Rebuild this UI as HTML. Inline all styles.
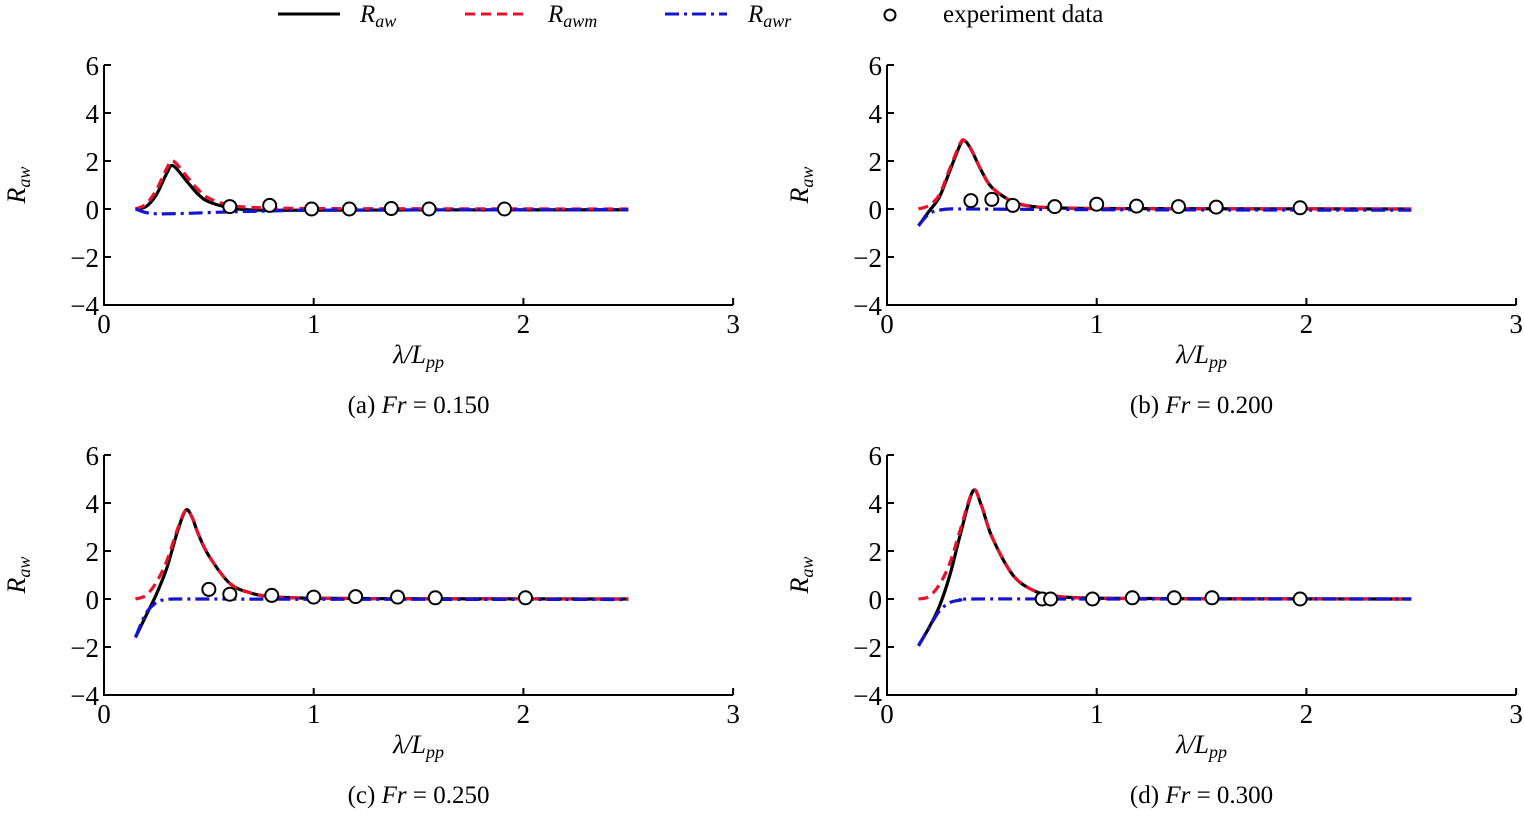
<!DOCTYPE html>
<html><head><meta charset="utf-8"><style>
body{margin:0;background:#fff;}
svg{display:block;font-family:"Liberation Serif",serif;}
</style></head><body>
<svg id="c" width="1524" height="814" viewBox="0 0 1524 814">
<g id="legend">
 <g><line x1="278" y1="14" x2="340" y2="14" stroke="#000" stroke-width="3"/><text x="360" y="22" font-size="25" font-style="italic">R<tspan font-size="18" dy="5">aw</tspan></text></g>
 <g><line x1="465" y1="14" x2="527" y2="14" stroke="#e8102a" stroke-width="3" stroke-dasharray="10,6"/><text x="548" y="22" font-size="25" font-style="italic">R<tspan font-size="18" dy="5">awm</tspan></text></g>
 <g><line x1="665" y1="14" x2="727" y2="14" stroke="#1414d0" stroke-width="3" stroke-dasharray="14,5,3,5"/><text x="748" y="22" font-size="25" font-style="italic">R<tspan font-size="18" dy="5">awr</tspan></text></g>
 <g><circle cx="890" cy="15" r="5.5" fill="#fff" stroke="#000" stroke-width="2"/><text x="943" y="22" font-size="25">experiment data</text></g>
</g>
</svg>
<script>
// Panel data
const xTicks=[0,1,2,3];
const yTicks=[-4,-2,0,2,4,6];
const captions=["(a) ","(b) ","(c) ","(d) "];
const froude=["0.150","0.200","0.250","0.300"];
const rawA=[[0.15,0],[0.2,0.1],[0.25,0.6],[0.3,1.5],[0.33,1.8],[0.4,1.1],[0.45,0.6],[0.5,0.3],[0.6,0.05],[0.7,-0.04],[0.8,-0.05],[1,-0.05],[1.5,-0.04],[2.5,-0.03]];
const rawmA=[[0.15,0],[0.2,0.2],[0.25,0.8],[0.3,1.7],[0.33,2.0],[0.4,1.3],[0.45,0.8],[0.5,0.45],[0.6,0.15],[0.7,0.07],[0.8,0.04],[1,0.02],[1.5,0.01],[2.5,0]];
const rawrA=[[0.15,0],[0.2,-0.15],[0.25,-0.2],[0.3,-0.2],[0.4,-0.18],[0.6,-0.12],[0.8,-0.08],[1,-0.05],[1.5,-0.04],[2.5,-0.03]];
const expA=[[0.6,0.1],[0.79,0.15],[0.99,0],[1.17,0],[1.37,0.02],[1.55,0],[1.91,0]];
const rawB=[[0.15,-0.7],[0.2,-0.1],[0.25,0.5],[0.3,1.6],[0.35,2.7],[0.37,2.85],[0.4,2.5],[0.45,1.6],[0.5,0.9],[0.6,0.3],[0.7,0.1],[0.8,0.05],[1,0.02],[1.5,0.01],[2.5,0]];
const rawmB=[[0.15,0],[0.2,0.15],[0.25,0.6],[0.3,1.7],[0.35,2.75],[0.37,2.85],[0.4,2.5],[0.45,1.6],[0.5,0.9],[0.6,0.3],[0.7,0.1],[0.8,0.05],[1,0.02],[1.5,0.01],[2.5,0]];
const rawrB=[[0.15,-0.7],[0.2,-0.2],[0.25,-0.05],[0.3,0],[0.4,0],[1,-0.03],[1.5,-0.04],[2.5,-0.05]];
const expB=[[0.4,0.35],[0.5,0.4],[0.6,0.15],[0.8,0.1],[1.0,0.2],[1.19,0.12],[1.39,0.1],[1.57,0.08],[1.97,0.05]];
const rawC=[[0.15,-1.6],[0.2,-0.7],[0.25,0.2],[0.3,1.3],[0.35,2.8],[0.39,3.7],[0.42,3.4],[0.45,2.7],[0.5,1.8],[0.6,0.65],[0.7,0.25],[0.8,0.1],[1,0.03],[1.5,0.01],[2.5,0]];
const rawmC=[[0.15,0],[0.2,0.15],[0.25,0.7],[0.3,1.6],[0.35,2.9],[0.39,3.7],[0.42,3.4],[0.45,2.7],[0.5,1.8],[0.6,0.65],[0.7,0.25],[0.8,0.1],[1,0.03],[1.5,0.01],[2.5,0]];
const rawrC=[[0.15,-1.6],[0.2,-0.6],[0.25,-0.15],[0.3,-0.02],[0.4,0],[1,-0.01],[2.5,-0.02]];
const expC=[[0.5,0.4],[0.6,0.2],[0.8,0.15],[1.0,0.08],[1.2,0.1],[1.4,0.08],[1.58,0.05],[2.01,0.05]];
const rawD=[[0.15,-1.95],[0.2,-1.2],[0.25,-0.3],[0.3,1.0],[0.35,2.7],[0.41,4.5],[0.45,3.9],[0.5,2.6],[0.6,1.0],[0.7,0.35],[0.8,0.12],[1,0.03],[1.5,0.01],[2.5,0]];
const rawmD=[[0.15,0],[0.2,0.1],[0.25,0.6],[0.3,1.5],[0.35,2.9],[0.41,4.5],[0.45,3.9],[0.5,2.6],[0.6,1.0],[0.7,0.35],[0.8,0.12],[1,0.03],[1.5,0.01],[2.5,0]];
const rawrD=[[0.15,-1.95],[0.2,-1.2],[0.25,-0.5],[0.3,-0.15],[0.35,-0.05],[0.4,0],[1,0],[2.5,0]];
const expD=[[0.74,0],[0.78,0],[0.98,0],[1.17,0.05],[1.37,0.05],[1.55,0.05],[1.97,0]];

const panels=[
 {x0:104,y0:209,raw:rawA,rawm:rawmA,rawr:rawrA,exp:expA},
 {x0:887,y0:209,raw:rawB,rawm:rawmB,rawr:rawrB,exp:expB},
 {x0:104,y0:599,raw:rawC,rawm:rawmC,rawr:rawrC,exp:expC},
 {x0:887,y0:599,raw:rawD,rawm:rawmD,rawr:rawrD,exp:expD}];
const NS="http://www.w3.org/2000/svg";
const svg=document.getElementById('c');
function mk(tag,attrs,parent){const e=document.createElementNS(NS,tag);for(const k in attrs)e.setAttribute(k,attrs[k]);parent.appendChild(e);return e;}
function pathD(pts,sx,sy){
 const p=pts.map(d=>[sx(d[0]),sy(d[1])]);
 let d="M"+p[0][0]+","+p[0][1];
 for(let i=0;i<p.length-1;i++){
  const p0=p[Math.max(0,i-1)],p1=p[i],p2=p[i+1],p3=p[Math.min(p.length-1,i+2)];
  const c1=[p1[0]+(p2[0]-p0[0])/6,p1[1]+(p2[1]-p0[1])/6];
  const c2=[p2[0]-(p3[0]-p1[0])/6,p2[1]-(p3[1]-p1[1])/6];
  d+=" C"+c1+" "+c2+" "+p2;
 }
 return d;
}
const XU=209.7, YU=24;
panels.forEach((P,i)=>{
 const sx=v=>P.x0+v*XU, sy=v=>P.y0-v*YU;
 const g=mk('g',{},svg);
 
 
 const ax=mk('path',{d:`M${sx(0)},${sy(6)} V${sy(-4)} H${sx(3)}`,fill:'none',stroke:'#000','stroke-width':2},g);
 
 
 yTicks.forEach(t=>{
  mk('line',{x1:sx(0),x2:sx(0)+7,y1:sy(t),y2:sy(t),stroke:'#000','stroke-width':2},g);
  const tx=mk('text',{x:sx(0)-5,y:sy(t)+10,'font-size':27,'text-anchor':'end'},g);
  tx.textContent=t<0?'\u2212'+(-t):t;
  
  
 });
 xTicks.forEach(t=>{
  mk('line',{x1:sx(t),x2:sx(t),y1:sy(-4),y2:sy(-4)-7,stroke:'#000','stroke-width':2},g);
  const tx=mk('text',{x:sx(t),y:sy(-4)+28,'font-size':27,'text-anchor':'middle'},g);
  tx.textContent=t;
  
  
 });
 const yl=mk('text',{transform:`translate(${P.x0-79},${sy(1)}) rotate(-90)`,'font-size':26,'font-style':'italic','text-anchor':'middle'},g);
 yl.innerHTML='R<tspan font-size="18" dy="5">aw</tspan>';
 
 
 const xl=mk('text',{x:sx(1.5),y:sy(-4)+58,'font-size':26,'font-style':'italic','text-anchor':'middle'},g);
 xl.innerHTML='λ/L<tspan font-size="18" dy="5">pp</tspan>';
 
 
 const cp=mk('text',{x:sx(1.5),y:sy(-4)+108,'font-size':25,'text-anchor':'middle'},g);
 cp.innerHTML=captions[i]+'<tspan font-style="italic">Fr</tspan> = '+froude[i];
 
 
 const l1=mk('path',{d:pathD(P.raw,sx,sy),fill:'none',stroke:'#000','stroke-width':3.2},g);
 
 
 const l2=mk('path',{d:pathD(P.rawm,sx,sy),fill:'none',stroke:'#e8102a','stroke-width':3.2,'stroke-dasharray':'10,6'},g);
 
 
 const l3=mk('path',{d:pathD(P.rawr,sx,sy),fill:'none',stroke:'#1414d0','stroke-width':3.2,'stroke-dasharray':'14,5,3,5'},g);
 
 
 P.exp.forEach(d=>{
  const c=mk('circle',{cx:sx(d[0]),cy:sy(d[1]),r:6.5,fill:'#fff',stroke:'#000','stroke-width':2},g);
  
  
 });
});
</script>
</body></html>
